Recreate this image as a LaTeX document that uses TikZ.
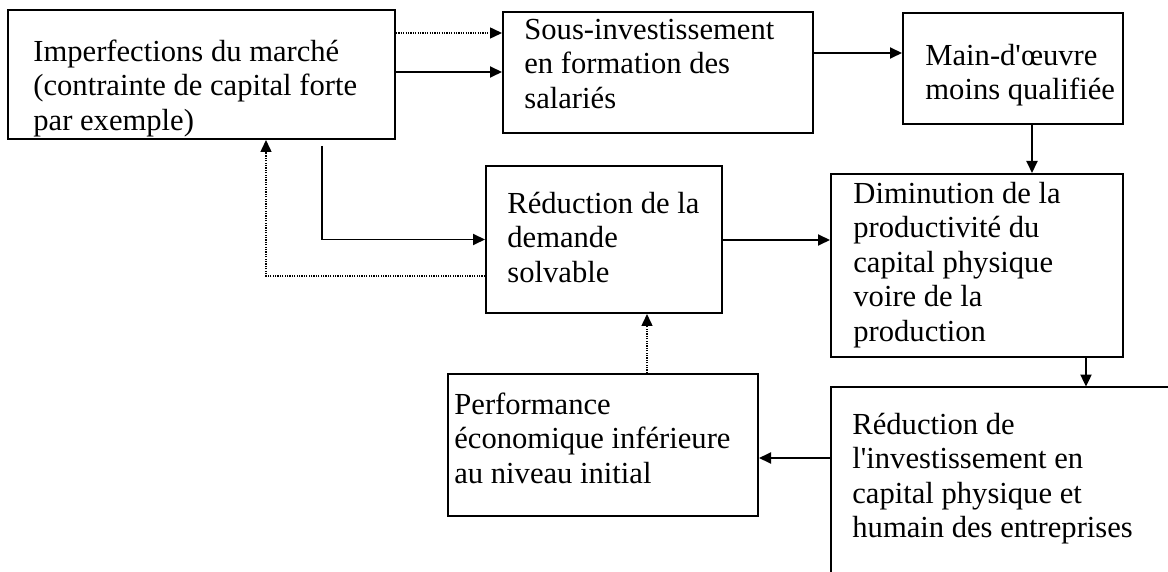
\documentclass[tikz,border=0pt]{standalone}
\usepackage{fontspec}
\setmainfont{Liberation Serif}
\usetikzlibrary{arrows.meta,fit,calc}
\begin{document}
\begin{tikzpicture}[x=0.5pt,y=-0.5pt,
  boxstyle/.style={draw, line width=1pt, inner sep=0pt},
  openbox/.style={draw=none, inner sep=0pt},
  txt/.style={anchor=north west, align=left, inner sep=0pt, font=\fontsize{15.3}{17.25}\selectfont},
  arr/.style={line width=0.95pt, -{Triangle[length=6pt,width=5.5pt]}},
  dotarr/.style={line width=0.75pt, dash pattern=on 0.6pt off 0.6pt, -{Triangle[length=6pt,width=5.5pt]}},
]
\useasboundingbox (0,0) rectangle (1168,572);

% boxes
\node[boxstyle, fit={(8,10) (395,139)}] (A) {};
\node[boxstyle, fit={(503,12) (813,133)}] (B) {};
\node[boxstyle, fit={(903,13) (1123,124)}] (C) {};
\node[boxstyle, fit={(831,174) (1123,357)}] (D) {};
\node[boxstyle, fit={(486,166) (722,313)}] (E) {};
\node[boxstyle, fit={(448,374) (758,516)}] (F) {};
\node[openbox, fit={(831,387) (1180,585)}] (G) {};
\draw[line width=1pt] (G.south west) -- (G.north west) -- (G.north east);

% texts
\node[txt] (At) at (33,36.5) {\strut Imperfections du marché\\(contrainte de capital forte\\par exemple)};
\node[txt] (Bt) at (524,14.5) {\strut Sous-investissement\\en formation des\\salariés};
\node[txt] (Ct) at (925,40.5) {\strut Main-d\textquotesingle œuvre\\moins qualifiée};
\node[txt] (Dt) at (853,178.5) {\strut Diminution de la\\productivité du\\capital physique\\voire de la\\production};
\node[txt] (Et) at (507,188.5) {\strut Réduction de la\\demande\\solvable};
\node[txt] (Ft) at (454,389.5) {\strut Performance\\économique inférieure\\au niveau initial};
\node[txt] (Gt) at (852,409.5) {\strut Réduction de\\l\textquotesingle investissement en\\capital physique et\\humain des entreprises};

% connectors
\draw[dotarr] (A.east |- 0,33) -- (B.west |- 0,33);
\draw[arr] (A.east |- 0,72) -- (B.west |- 0,72);
\draw[arr] (B.east |- 0,53) -- (C.west |- 0,53);
\draw[arr] (C.south -| 1032,0) -- (D.north -| 1032,0);
\draw[arr, shorten <=3pt] (A.south -| 322,0) |- (E.west);
\draw[dotarr] (E.west |- 0,276) -| (A.south -| 266,0);
\draw[arr] (E.east |- 0,240) -- (D.west |- 0,240);
\draw[arr] (D.south -| 1086,0) -- (G.north -| 1086,0);
\draw[arr] (G.west |- 0,458) -- (F.east |- 0,458);
\draw[dotarr] (F.north -| 647,0) -- (E.south -| 647,0);
\end{tikzpicture}
\end{document}
